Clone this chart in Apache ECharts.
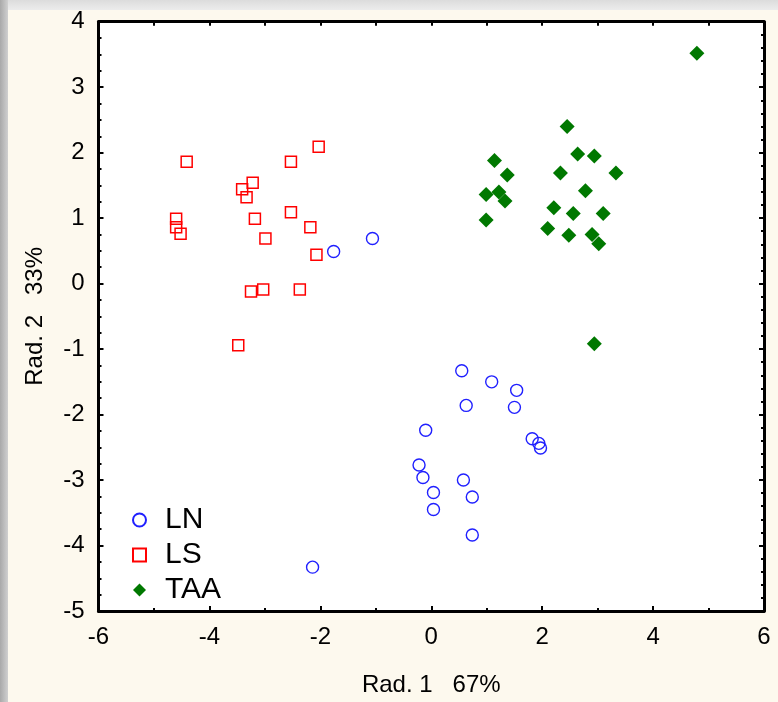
<!DOCTYPE html>
<html>
<head>
<meta charset="utf-8">
<script src="https://cdn.jsdelivr.net/npm/echarts@6/dist/echarts.min.js"></script>
<style>
  html, body { margin: 0; padding: 0; }
  #wrap { position: relative; width: 778px; height: 702px; background: #fdf9ee; }
  #chart { position: absolute; left: 0; top: 0; width: 778px; height: 702px; }
  .strip_top { position: absolute; left: 0; top: 0; width: 778px; height: 10px; background: linear-gradient(#dcdcdc, #ececec); }
  .strip_left { position: absolute; left: 0; top: 0; width: 8px; height: 702px; background: linear-gradient(90deg, #a9a9a9, #d0d0d0); }
</style>
</head>
<body>
<div id="wrap">
  <div id="chart"></div>
  <div class="strip_top"></div>
  <div class="strip_left"></div>
</div>
<script>
// Rad. 1 / Rad. 2 coordinates
const lnData = [
  [-1.76, 0.49], [-1.06, 0.69], [-2.14, -4.33],
  [0.55, -1.33], [1.09, -1.50], [1.54, -1.63], [0.63, -1.86], [1.50, -1.89],
  [-0.10, -2.24], [1.82, -2.37], [1.94, -2.44], [1.97, -2.51],
  [-0.22, -2.77], [-0.15, -2.96], [0.58, -3.00], [0.04, -3.19],
  [0.74, -3.26], [0.04, -3.45], [0.74, -3.84]
];
const lsData = [
  [-4.41, 1.86], [-2.53, 1.86], [-2.03, 2.09], [-3.41, 1.44], [-3.22, 1.54],
  [-3.33, 1.32], [-4.60, 0.99], [-4.60, 0.86], [-4.52, 0.76], [-3.18, 0.99],
  [-2.53, 1.09], [-2.18, 0.86], [-2.99, 0.69], [-2.07, 0.44],
  [-3.25, -0.12], [-3.03, -0.09], [-2.37, -0.09], [-3.48, -0.94]
];
const taaData = [
  [4.79, 3.52], [2.45, 2.40], [2.64, 1.98], [2.94, 1.95], [1.14, 1.88],
  [1.37, 1.66], [2.33, 1.69], [3.33, 1.69], [2.78, 1.42], [0.99, 1.36],
  [1.22, 1.40], [1.33, 1.26], [2.21, 1.16], [2.56, 1.07], [3.10, 1.07],
  [0.99, 0.97], [2.10, 0.84], [2.48, 0.74], [2.90, 0.75], [3.02, 0.61],
  [2.94, -0.92]
];
const groupNames = ["LN", "LS", "TAA"];

const font = "Liberation Sans, Arial, sans-serif";
const black = "#000";

let myChart = echarts.init(document.getElementById("chart"));
let option = {
  animation: false,
  textStyle: { fontFamily: font },
  grid: { left: 98.5, right: 14, top: 21.7, bottom: 90.3, show: true, backgroundColor: "#fff", borderWidth: 0 },
  legend: {
    data: groupNames,
    orient: "vertical",
    left: 127,
    top: 500,
    itemWidth: 13,
    itemHeight: 13,
    itemGap: 5,
    textStyle: { fontSize: 30, color: black, fontFamily: font, lineHeight: 30, padding: [0, 0, 0, 14] },
  },
  xAxis: [
    {
      type: "value",
      min: -6,
      max: 6,
      interval: 2,
      position: "bottom",
      name: "Rad. 1   67%",
      nameLocation: "middle",
      nameGap: 62,
      nameTextStyle: { fontSize: 24, color: black, fontFamily: font },
      axisLine: { onZero: false, lineStyle: { color: black, width: 3 } },
      axisTick: { inside: true, length: 5, lineStyle: { color: black, width: 2 } },
      minorTick: { show: true, splitNumber: 2, length: 3, lineStyle: { color: black, width: 2 } },
      axisLabel: { fontSize: 24, color: black, margin: 14, fontFamily: font },
      splitLine: { show: false },
    },
    {
      type: "value",
      min: -6,
      max: 6,
      interval: 1,
      position: "top",
      axisLine: { onZero: false, lineStyle: { color: black, width: 3 } },
      axisTick: { inside: true, length: 4, lineStyle: { color: black, width: 2 } },
      axisLabel: { show: false },
      splitLine: { show: false },
    },
  ],
  yAxis: [
    {
      type: "value",
      min: -5,
      max: 4,
      interval: 1,
      position: "left",
      name: "Rad. 2   33%",
      nameLocation: "middle",
      nameGap: 51,
      nameTextStyle: { fontSize: 24, color: black, fontFamily: font },
      axisLine: { onZero: false, lineStyle: { color: black, width: 3 } },
      axisTick: { inside: true, length: 5, lineStyle: { color: black, width: 2 } },
      minorTick: { show: true, splitNumber: 4, length: 3, lineStyle: { color: black, width: 2 } },
      axisLabel: { fontSize: 24, color: black, margin: 14, fontFamily: font },
      splitLine: { show: false },
    },
    {
      type: "value",
      min: -5,
      max: 4,
      interval: 1,
      position: "right",
      axisLine: { onZero: false, lineStyle: { color: black, width: 3 } },
      axisTick: { inside: true, length: 5, lineStyle: { color: black, width: 2 } },
      minorTick: { show: true, splitNumber: 5, length: 3, lineStyle: { color: black, width: 2 } },
      axisLabel: { show: false },
      splitLine: { show: false },
    },
  ],
  series: [
    {
      name: "LN",
      type: "scatter",
      symbol: "circle",
      symbolSize: 12,
      itemStyle: { color: "rgba(0,0,0,0)", borderColor: "#2020ff", borderWidth: 1.4, opacity: 1 },
      data: lnData,
    },
    {
      name: "LS",
      type: "scatter",
      symbol: "rect",
      symbolSize: 11,
      itemStyle: { color: "rgba(0,0,0,0)", borderColor: "#ff0000", borderWidth: 1.5, opacity: 1 },
      data: lsData,
    },
    {
      name: "TAA",
      type: "scatter",
      symbol: "diamond",
      symbolSize: 15,
      itemStyle: { color: "#007800", opacity: 1 },
      data: taaData,
    },
  ],
};
myChart.setOption(option);
</script>
</body>
</html>
